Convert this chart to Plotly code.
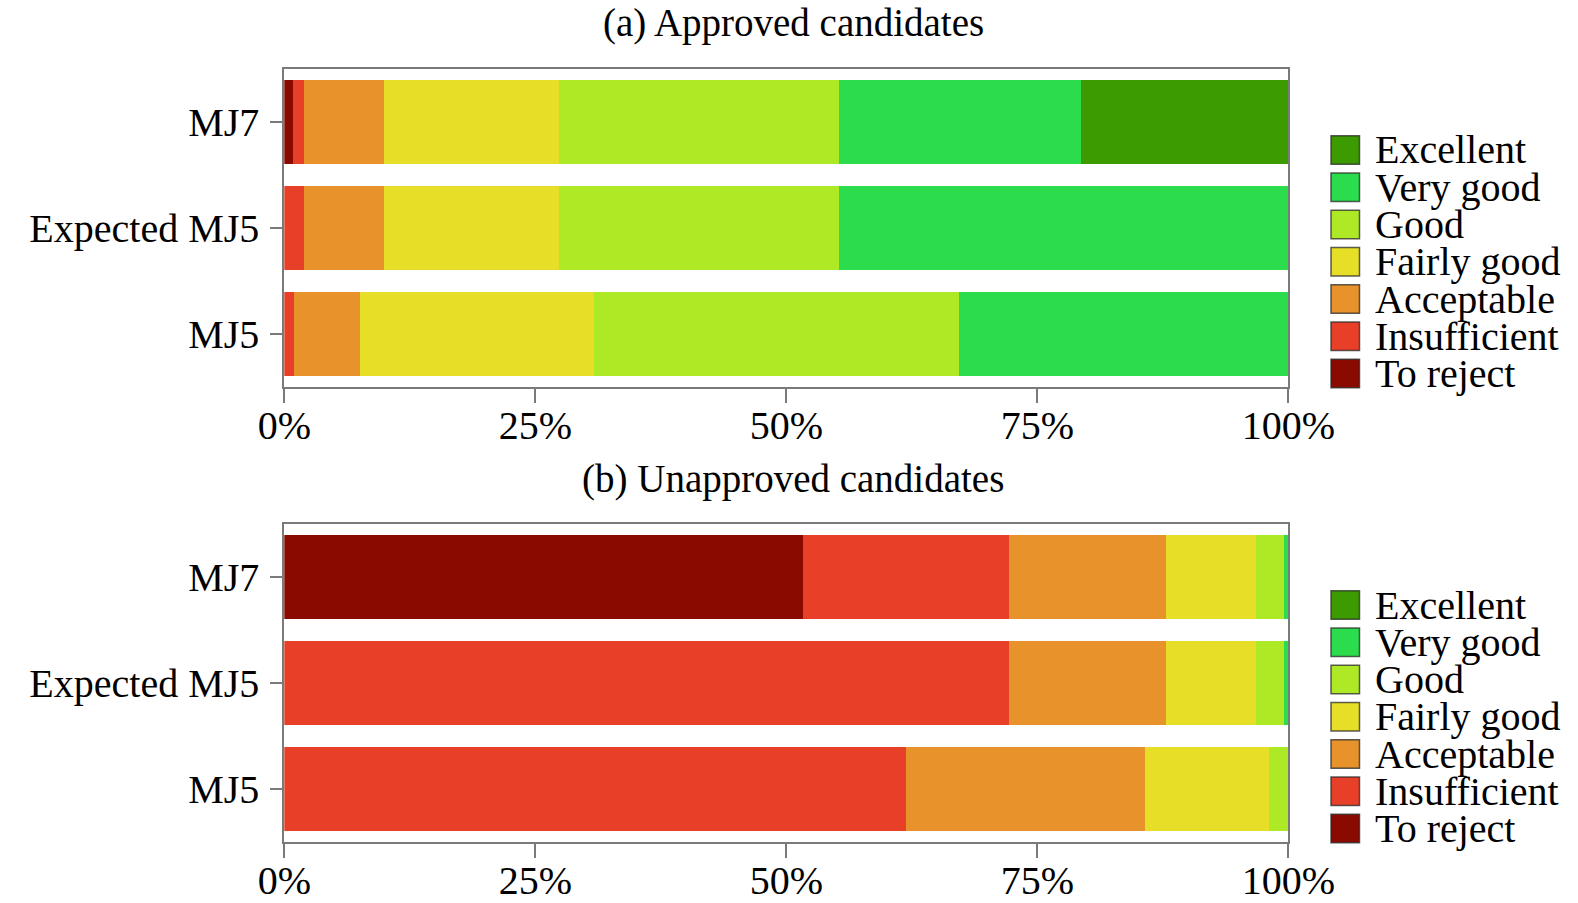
import plotly.graph_objects as go

W, H = 1578, 903

# Rows of each panel, top to bottom
candidates = ["MJ7", "Expected MJ5", "MJ5"]

# Rating scale, worst to best (stacking order from the left)
ratings = ["To reject", "Insufficient", "Acceptable", "Fairly good",
           "Good", "Very good", "Excellent"]
colors = ["#8b0a00", "#e73f28", "#e7922a", "#e6de27",
          "#aee926", "#2bdd4d", "#3b9b00"]

# Share of each rating (%), per candidate row [MJ7, Expected MJ5, MJ5]
approved_to_reject = [0.90, 0.0, 0.0]
approved_insufficient = [1.06, 1.96, 1.00]
approved_acceptable = [8.00, 8.00, 6.57]
approved_fairly_good = [17.37, 17.37, 23.25]
approved_good = [27.95, 27.95, 36.41]
approved_very_good = [24.10, 44.72, 32.77]
approved_excellent = [20.62, 0.0, 0.0]

unapproved_to_reject = [51.63, 0.0, 0.0]
unapproved_insufficient = [20.58, 72.21, 61.89]
unapproved_acceptable = [15.58, 15.58, 23.87]
unapproved_fairly_good = [8.96, 8.96, 12.35]
unapproved_good = [2.79, 2.79, 1.89]
unapproved_very_good = [0.46, 0.46, 0.0]
unapproved_excellent = [0.0, 0.0, 0.0]

approved = [approved_to_reject, approved_insufficient, approved_acceptable,
            approved_fairly_good, approved_good, approved_very_good,
            approved_excellent]
unapproved = [unapproved_to_reject, unapproved_insufficient,
              unapproved_acceptable, unapproved_fairly_good, unapproved_good,
              unapproved_very_good, unapproved_excellent]

tick_vals = [0, 25, 50, 75, 100]
tick_text = ["0%", "25%", "50%", "75%", "100%"]

panel_titles = ["(a) Approved candidates", "(b) Unapproved candidates"]

FONT = "Liberation Serif"
FS = 40
AXIS_GREY = "#7a7a7a"

fig = go.Figure()

panels = [(approved, "x", "y"), (unapproved, "x2", "y2")]
for data, xa, ya in panels:
    for name, col, vals in zip(ratings, colors, data):
        fig.add_trace(go.Bar(
            y=candidates, x=vals, name=name, orientation="h",
            marker=dict(color=col, line=dict(width=0)),
            xaxis=xa, yaxis=ya, showlegend=False, width=0.8,
            hovertemplate=name + ": %{x:.2f}%<extra>%{y}</extra>",
        ))

# Pixel layout of the two panels
x0_px, x1_px = 284.3, 1288.3
panel_px = [(69, 387), (524, 842)]  # top/bottom edges of each plot area


def py(y):
    return (H - y) / H


def px(x):
    return x / W


axis_common = dict(
    showline=True, linecolor=AXIS_GREY, linewidth=2, mirror=True,
    showgrid=False, zeroline=False, ticks="outside", tickcolor=AXIS_GREY,
    tickwidth=2, tickfont=dict(family=FONT, size=FS, color="black"),
    automargin=False,
)

layout_axes = {}
for i, (top, bot) in enumerate(panel_px):
    sx = "" if i == 0 else str(i + 1)
    layout_axes["xaxis" + sx] = dict(
        axis_common, domain=[px(x0_px), px(x1_px)], range=[0, 100],
        tickvals=tick_vals, ticktext=tick_text, ticklen=14,
        ticklabelstandoff=-12, anchor="y" + sx, fixedrange=True,
    )
    layout_axes["yaxis" + sx] = dict(
        axis_common, domain=[py(bot), py(top)], range=[-0.5, 2.5],
        categoryorder="array", categoryarray=candidates[::-1],
        ticklen=12, ticklabelstandoff=3, anchor="x" + sx, fixedrange=True,
    )

shapes = []
annotations = []

# Panel captions
for title, yc in zip(panel_titles, [23, 479]):
    annotations.append(dict(
        text=title, x=px(793), y=py(yc), xref="paper", yref="paper",
        xanchor="center", yanchor="middle", showarrow=False,
        font=dict(family=FONT, size=FS - 1, color="black"),
    ))

# Rating keys beside each panel, best rating first
key_first_center = [150, 605]
key_step = 37.25
sq = 28.5
for first in key_first_center:
    for k, (name, col) in enumerate(zip(ratings[::-1], colors[::-1])):
        cy = first + k * key_step
        shapes.append(dict(
            type="rect", xref="paper", yref="paper",
            x0=px(1331), x1=px(1331 + sq), y0=py(cy + sq / 2), y1=py(cy - sq / 2),
            fillcolor=col, line=dict(color="rgba(40,40,40,0.75)", width=1.5),
        ))
        annotations.append(dict(
            text=name, x=px(1373), y=py(cy), xref="paper", yref="paper",
            xanchor="left", yanchor="middle", showarrow=False,
            font=dict(family=FONT, size=FS, color="black"),
        ))

fig.update_layout(
    width=W, height=H, barmode="stack", bargap=0.2,
    margin=dict(l=0, r=0, t=0, b=0, autoexpand=False),
    paper_bgcolor="white", plot_bgcolor="white",
    shapes=shapes, annotations=annotations, showlegend=False,
    **layout_axes,
)

fig.write_html("out.html")
